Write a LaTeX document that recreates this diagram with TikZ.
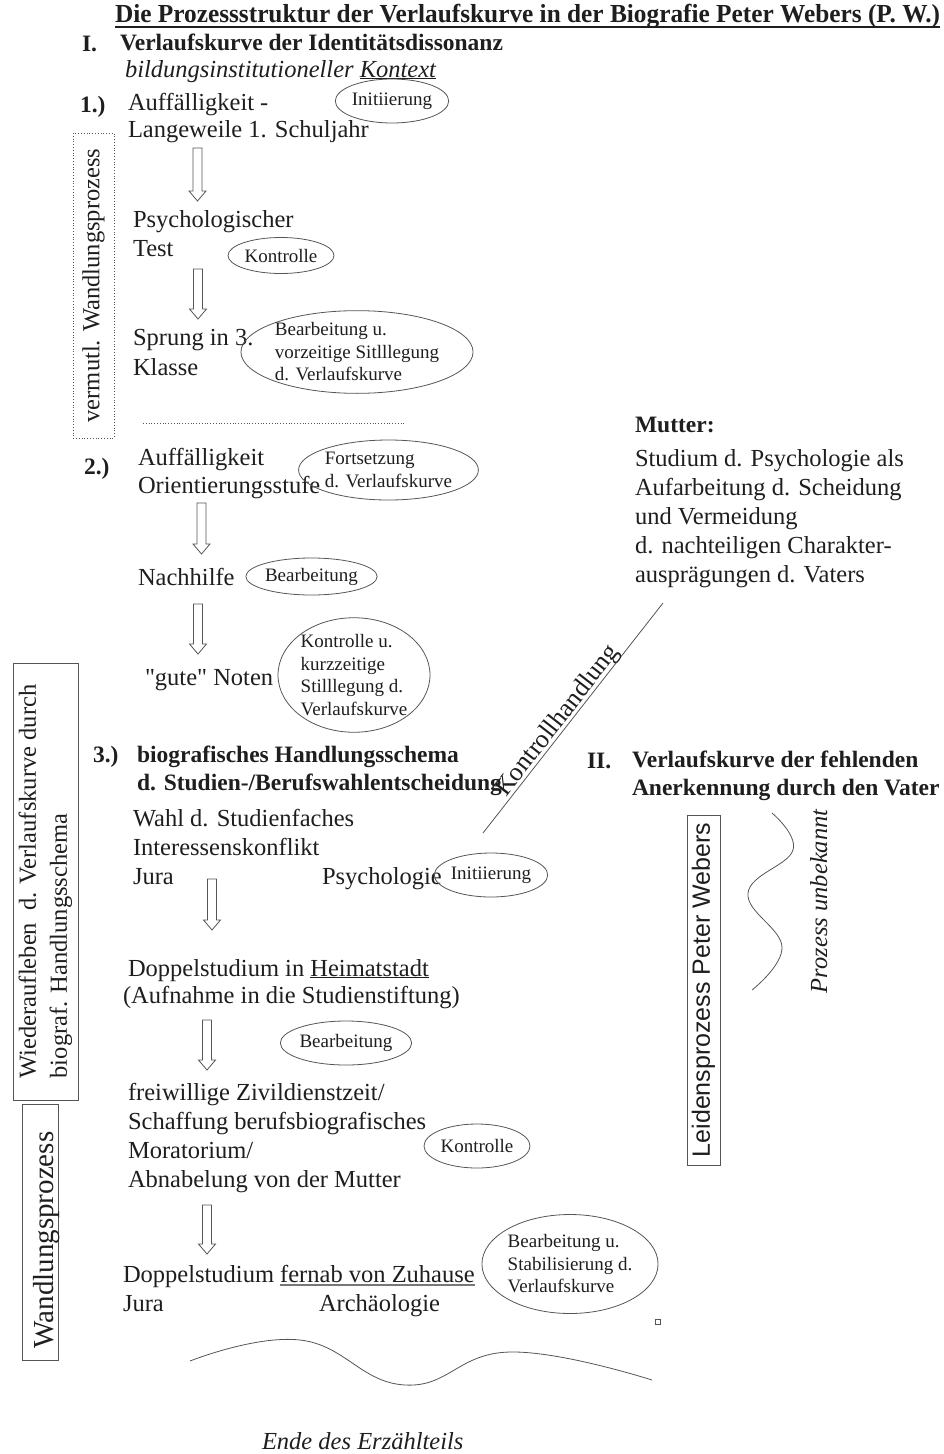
\documentclass[tikz,border=0pt]{standalone}
\usepackage{fontspec}
\setmainfont{Liberation Serif}
\newfontfamily\sansf{Liberation Sans}
\newfontfamily\plainserif{Liberation Serif}
\usetikzlibrary{shapes.geometric,calc}
\definecolor{ink}{HTML}{1E1E1E}
\definecolor{rulecol}{HTML}{555555}

% thick grey underline under a phrase
\newcommand\thickul[1]{\setbox0\hbox{#1}\rlap{\textcolor{rulecol!80}{\rule[-4pt]{\wd0}{1.6pt}}}\box0}

% hollow block arrow pointing down: name, x, top y, tip y
\newcommand\blockarrow[4]{%
  \coordinate (#1) at (#2,#3);
  \draw[blk] (#2-4.5,#3) -- (#2+4.5,#3) -- (#2+4.5,#4-10) -- (#2+8.5,#4-10)
    -- (#2,#4) -- (#2-8.5,#4-10) -- (#2-4.5,#4-10) -- cycle;}

\begin{document}
\begin{tikzpicture}[x=1pt,y=-1pt,
  txt/.style={anchor=base west, inner sep=0, outer sep=0, text=ink,
    font=\fontsize{24.5}{29}\selectfont},
  bld/.style={txt, font=\fontsize{23.5}{28}\selectfont\bfseries},
  itl/.style={txt, font=\fontsize{24.5}{29}\selectfont\itshape},
  ell/.style={draw=rulecol, line width=0.8, ellipse, inner sep=0, align=left,
    text=ink, font=\fontsize{19}{22.5}\selectfont},
  framebox/.style={draw=rulecol, line width=0.9, inner sep=0, text=ink},
  dotbox/.style={draw=rulecol, line width=0.8, dotted, inner sep=0, text=ink},
  blk/.style={draw=rulecol, line width=0.8, fill=white},
  thinline/.style={draw=rulecol, line width=0.8},
  ulline/.style={draw=ink, line width=1.2},
]
\useasboundingbox (0,0) rectangle (944,1454);

% ---------- title ----------
\node[txt] (title) at (115,22) {\resizebox{825pt}{\height}{\fontsize{26}{30}\selectfont\bfseries Die Prozessstruktur der Verlaufskurve in der Biografie Peter Webers (P. W.)}};
\draw[ulline] ($(title.base west)+(0,5)$) -- ($(title.base east)+(0,5)$);

% ---------- I. ----------
\node[bld] (romI) at (82,51) {I.};
\node[bld] (headI) at (120,50) {Verlaufskurve der Identitätsdissonanz};
\node[itl] (ctx) at (125,77) {bildungsinstitutioneller \underline{Kontext}};

% phase 1
\node[bld] (n1) at (80,112) {1.)};
\node[txt] (s1a) at (128,110) {Auffälligkeit -};
\node[txt] (s1b) at (128,137) {Langeweile 1. Schuljahr};
\node[ell, minimum width=106, minimum height=44] (e1) at (392,101) {Initiierung};
\node[dotbox, rotate=90, minimum width=305, minimum height=41,
  font=\fontsize{24.5}{29}\selectfont] (vbox) at (93.5,285.5) {vermutl. Wandlungsprozess};

\blockarrow{a1}{197.5}{148}{201}
\node[txt] (s1c) at (133,227) {Psychologischer};
\node[txt] (s1d) at (133,256) {Test};
\node[ell, minimum width=106, minimum height=36] (e2) at (281,255.5) {Kontrolle};

\blockarrow{a2}{198}{269}{319}
\node[txt] (s1e) at (133,345) {Sprung in 3.};
\node[txt] (s1f) at (133,375) {Klasse};
\node[ell, minimum width=196, minimum height=81] (e3) at (357,352) {Bearbeitung u.\\vorzeitige Sitlllegung\\d. Verlaufskurve};

\draw[thinline, dotted] (143,423) -- (405,423);

% phase 2
\node[bld] (n2) at (84,474) {2.)};
\node[txt] (s2a) at (138,465) {Auffälligkeit};
\node[txt] (s2b) at (138,493) {Orientierungsstufe};
\node[ell, minimum width=161, minimum height=60] (e4) at (388.5,470) {Fortsetzung\\d. Verlaufskurve};

\blockarrow{a3}{201.5}{503}{554}
\node[txt] (s2c) at (138,585) {Nachhilfe};
\node[ell, minimum width=105, minimum height=37] (e5) at (311.5,576.5) {Bearbeitung};

\blockarrow{a4}{198}{604}{654}
\node[txt, font=\fontsize{24.5}{29}\plainserif] (s2d) at (145,685) {"gute" Noten};
\node[ell, minimum width=152, minimum height=106] (e6) at (354,675) {Kontrolle u.\\kurzzeitige\\Stilllegung d.\\Verlaufskurve};

% side frames
\node[framebox, rotate=90, minimum width=437, minimum height=65, align=left,
  font=\fontsize{24.5}{31}\selectfont] (wbox) at (45.5,881.5)
  {Wiederaufleben\ \ d. Verlaufskurve durch\\biograf. Handlungsschema};
\node[framebox, rotate=90, minimum width=256, minimum height=36] (wpbox) at (40.5,1232) {};
\node[txt, anchor=base, rotate=90, font=\fontsize{29}{34}\selectfont] (wptext) at (53,1240) {Wandlungsprozess};

% phase 3
\node[bld] (n3) at (93,762) {3.)};
\node[bld] (s3a) at (137,762) {biografisches Handlungsschema};
\node[bld] (s3b) at (137,790) {d. Studien-/Berufswahlentscheidung};
\node[txt] (s3c) at (133,826) {Wahl d. Studienfaches};
\node[txt] (s3d) at (133,855) {Interessenskonflikt};
\node[txt] (s3e) at (133,884) {Jura};
\node[txt] (s3f) at (322,884) {Psychologie};
\node[ell, minimum width=108, minimum height=44] (e7) at (491,875) {Initiierung};

\blockarrow{a5}{212}{879}{930}
\node[txt] (s3g) at (128,976) {Doppelstudium in \underline{Heimatstadt}};
\node[txt] (s3h) at (123,1003) {(Aufnahme in die Studienstiftung)};

\blockarrow{a6}{207}{1020}{1070}
\node[ell, minimum width=116, minimum height=44] (e8) at (346,1043) {Bearbeitung};
\node[txt] (s3i) at (128,1100) {freiwillige Zivildienstzeit/};
\node[txt] (s3j) at (128,1129) {Schaffung berufsbiografisches};
\node[txt] (s3k) at (128,1158) {Moratorium/};
\node[txt] (s3l) at (128,1187) {Abnabelung von der Mutter};
\node[ell, minimum width=106, minimum height=44] (e9) at (477,1146) {Kontrolle};

\blockarrow{a7}{207}{1205}{1254}
\node[txt] (s3m) at (123,1282) {Doppelstudium \thickul{fernab von Zuhause}};
\node[txt] (s3n) at (123,1311) {Jura};
\node[txt] (s3o) at (319,1311) {Archäologie};
\node[ell, minimum width=152, minimum height=99] (e10) at (570,1264) {Bearbeitung u.\\Stabilisierung d.\\Verlaufskurve};
\node[draw=rulecol, line width=0.6, minimum size=5, inner sep=0] (sq) at (658,1322) {};

% closing wave and end note
\draw[thinline] plot[smooth, tension=0.75] coordinates {(190,1361) (300,1340) (405,1385) (510,1352) (652,1380)};
\node[itl] (endnote) at (262,1449) {Ende des Erzählteils};

% ---------- mother ----------
\node[bld] (mu) at (635,432) {Mutter:};
\node[txt] (m1) at (635,466) {Studium d. Psychologie als};
\node[txt] (m2) at (635,495) {Aufarbeitung d. Scheidung};
\node[txt] (m3) at (635,524) {und Vermeidung};
\node[txt] (m4) at (635,553) {d. nachteiligen Charakter-};
\node[txt] (m5) at (635,582) {ausprägungen d. Vaters};

\coordinate (kA) at (483,833);
\coordinate (kB) at (663,603);
\draw[thinline] (kA) -- (kB);
\node[txt, anchor=base, rotate=52, font=\fontsize{26}{30}\selectfont] (kh) at (563,725) {Kontrollhandlung};

% ---------- II. ----------
\node[bld] (romII) at (587,768) {II.};
\node[bld] (h2a) at (632,767) {Verlaufskurve der fehlenden};
\node[bld] (h2b) at (632,795) {Anerkennung durch den Vater};
\node[framebox, rotate=90, minimum width=350, minimum height=33,
  font=\fontsize{25}{30}\sansf] (lbox) at (703.5,990) {Leidensprozess Peter Webers};
\draw[thinline] plot[smooth, tension=0.7] coordinates {(772,813) (793,850) (748,893) (782,947) (752,990)};
\node[itl, rotate=90] (unk) at (827,993) {Prozess unbekannt};

\end{tikzpicture}
\end{document}
